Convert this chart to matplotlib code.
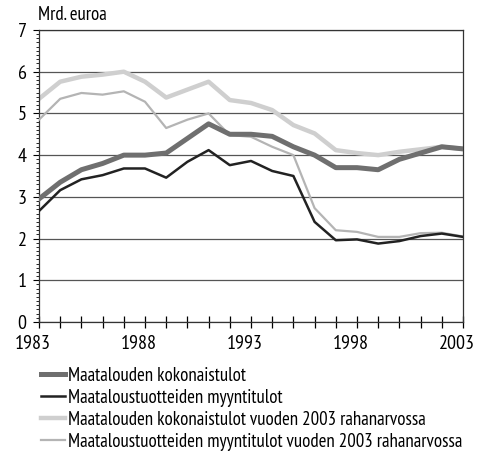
import matplotlib
matplotlib.use("Agg")
import matplotlib.pyplot as plt
import matplotlib.transforms as mtransforms
from matplotlib import font_manager
from matplotlib.ticker import MultipleLocator

# pick a narrow humanist sans close to the original (Frutiger-like)
available = {f.name for f in font_manager.fontManager.ttflist}
font = "Open Sans"
for name in ["PT Sans Narrow", "Fira Sans Condensed", "Open Sans Condensed",
             "Roboto Condensed", "PT Sans", "Open Sans"]:
    if name in available:
        font = name
        break
plt.rcParams["font.family"] = [font, "DejaVu Sans"]

# Data (Mrd. euroa)
years = list(range(1983, 2004))
kokonaistulot = [2.95, 3.35, 3.65, 3.8, 4.0, 4.0, 4.05, 4.4, 4.75, 4.5, 4.5,
                 4.45, 4.2, 4.0, 3.7, 3.7, 3.65, 3.9, 4.05, 4.2, 4.15]
myyntitulot = [2.66, 3.16, 3.42, 3.52, 3.68, 3.68, 3.46, 3.84, 4.12, 3.76, 3.86,
               3.62, 3.5, 2.4, 1.96, 1.98, 1.88, 1.94, 2.06, 2.12, 2.04]
kokonaistulot_2003 = [5.35, 5.76, 5.88, 5.93, 6.0, 5.76, 5.38, 5.57, 5.76, 5.32, 5.25,
                      5.08, 4.72, 4.52, 4.12, 4.05, 4.0, 4.08, 4.14, 4.2, 4.15]
myyntitulot_2003 = [4.85, 5.35, 5.49, 5.45, 5.53, 5.28, 4.65, 4.85, 5.0, 4.48, 4.44,
                    4.2, 4.0, 2.73, 2.2, 2.16, 2.04, 2.04, 2.13, 2.14, 2.05]
labels = ["Maatalouden kokonaistulot",
          "Maataloustuotteiden myyntitulot",
          "Maatalouden kokonaistulot vuoden 2003 rahanarvossa",
          "Maataloustuotteiden myyntitulot vuoden 2003 rahanarvossa"]

fig = plt.figure(figsize=(4.78, 4.57), dpi=100)

# size the legend text so the longest label is ~396 px wide, as in the original
probe = fig.text(0, 0, labels[3], fontsize=10)
w = probe.get_window_extent(renderer=fig.canvas.get_renderer()).width
probe.remove()
leg_size = min(14.0, 10 * 394 / w)
tick_size = leg_size * 1.06
# row pitch of ~23 px in the original legend
pitch_pt = 23 * 72 / 100
spacing = max(0.1, (pitch_pt - leg_size * 1.2) / leg_size) + 0.12

ax = fig.add_axes([0.0816, 0.2954, 0.887, 0.639])

ax.plot(years, kokonaistulot_2003, color="#cfcfcf", lw=3.2, label=labels[2], zorder=2)
ax.plot(years, myyntitulot_2003, color="#b4b4b4", lw=1.6, label=labels[3], zorder=3)
ax.plot(years, kokonaistulot, color="#6f6f6f", lw=3.6, label=labels[0], zorder=4)
ax.plot(years, myyntitulot, color="#222222", lw=1.8, label=labels[1], zorder=5)

ax.set_xlim(1983, 2003)
ax.set_ylim(0, 7)
ax.set_xticks([1983, 1988, 1993, 1998, 2003])
ax.xaxis.set_minor_locator(MultipleLocator(1))
ax.yaxis.set_major_locator(MultipleLocator(1))
ax.yaxis.set_minor_locator(MultipleLocator(0.1))
ax.tick_params(axis="x", which="both", direction="inout", length=9, width=0.9,
               labelsize=tick_size, pad=5)
ax.tick_params(axis="y", which="major", direction="out", length=4,
               labelsize=tick_size, pad=5)
ax.tick_params(axis="y", which="minor", direction="out", length=2.5, width=0.6)
ax.grid(axis="y", which="major", color="#555555", lw=0.9, zorder=1)
for s in ax.spines.values():
    s.set_color("#333333")
    s.set_linewidth(0.9)

# year labels sit a little left of their ticks in the original
shift = mtransforms.ScaledTranslation(-6 / 100, 0, fig.dpi_scale_trans)
for lab in ax.get_xticklabels():
    lab.set_transform(lab.get_transform() + shift)

fig.text(0.08, 0.947, "Mrd. euroa", fontsize=leg_size, ha="left", va="bottom")

handles, labs = ax.get_legend_handles_labels()
order = [2, 3, 0, 1]
fig.legend([handles[i] for i in order], [labs[i] for i in order],
           loc="upper left", bbox_to_anchor=(0.085, 0.198), frameon=False,
           fontsize=leg_size, handlelength=1.3, handletextpad=0.15,
           labelspacing=spacing, borderpad=0, borderaxespad=0)

fig.savefig("out.png", dpi=100)
